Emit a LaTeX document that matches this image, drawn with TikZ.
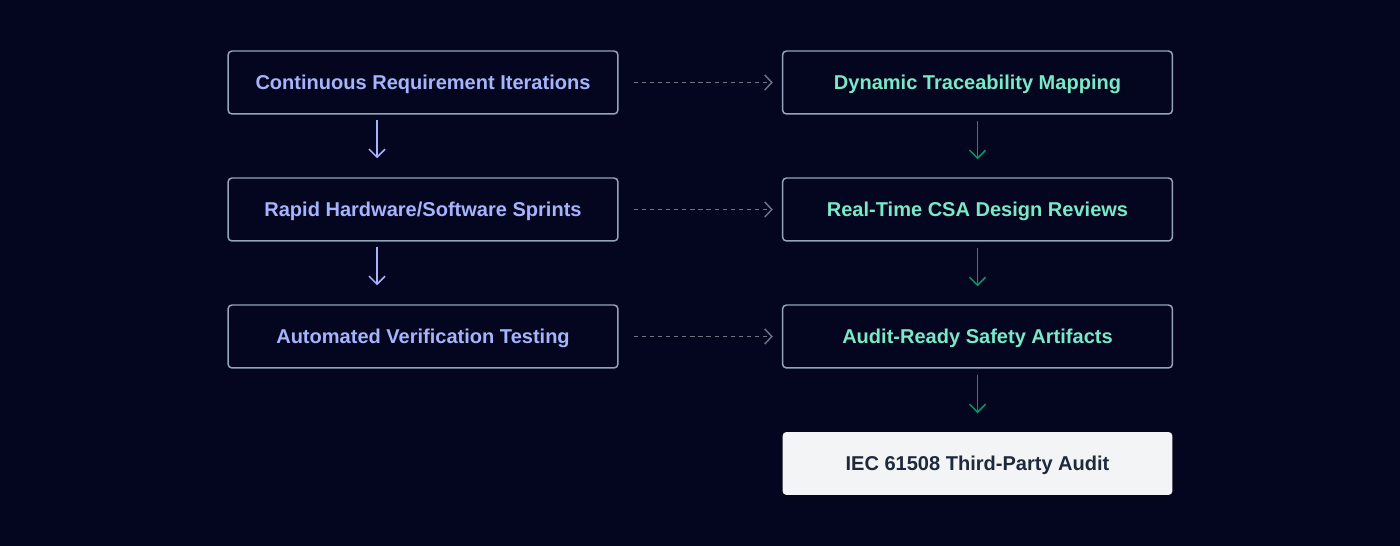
\documentclass[tikz,border=0pt]{standalone}
\usepackage{fontspec}
\setmainfont{Liberation Sans}
\usetikzlibrary{arrows.meta}

\definecolor{bgcol}{HTML}{04061F}
\definecolor{edgecol}{HTML}{94A3B8}
\definecolor{agiletxt}{HTML}{A5B4FC}
\definecolor{safetxt}{HTML}{79E9C8}
\definecolor{safearr}{HTML}{059669}
\definecolor{linkcol}{HTML}{6B7280}
\definecolor{auditfill}{HTML}{F3F4F6}
\definecolor{audittxt}{HTML}{1E293B}

\tikzset{
    stagebox/.style={draw=edgecol, line width=0.85pt, rounded corners=0.08cm, fill=bgcol,
        minimum width=7.8cm, minimum height=1.26cm, text depth=0pt,
        font=\bfseries\fontsize{11.4}{13}\selectfont},
    agilebox/.style={stagebox, text=agiletxt},
    safebox/.style={stagebox, text=safetxt},
    auditbox/.style={stagebox, draw=none, fill=auditfill, text=audittxt},
    agileflow/.style={agiletxt, line width=0.9pt, -{Straight Barb[length=1.6mm,width=3.2mm]}, shorten <=0.1cm, shorten >=0.38cm},
    safeflow/.style={safearr, line width=0.9pt, -{Straight Barb[length=1.6mm,width=3.2mm]}, shorten <=0.12cm, shorten >=0.36cm},
    linkflow/.style={linkcol, line width=0.85pt, dash pattern=on 2.4pt off 2.2pt, -{Straight Barb[length=1.4mm,width=3mm]}, shorten <=0.3cm, shorten >=0.18cm}
}

\begin{document}
\begin{tikzpicture}[x=0.02cm, y=-0.02cm]
    \fill[bgcol] (0,0) rectangle (1400,546);
    \useasboundingbox (0,0) rectangle (1400,546);

    % agile side
    \node[agilebox] (reqit) at (423,82.5) {Continuous Requirement Iterations};
    \node[agilebox] (sprint) at (423,209.5) {Rapid Hardware/Software Sprints};
    \node[agilebox] (vertest) at (423,336.5) {Automated Verification Testing};

    % safety side
    \node[safebox] (trace) at (977.5,82.5) {Dynamic Traceability Mapping};
    \node[safebox] (review) at (977.5,209.5) {Real-Time CSA Design Reviews};
    \node[safebox] (artif) at (977.5,336.5) {Audit-Ready Safety Artifacts};
    \node[auditbox] (audit) at (977.5,463.5) {IEC 61508 Third-Party Audit};

    \draw[agileflow] ([xshift=-0.92cm]reqit.south) -- ([xshift=-0.92cm]sprint.north);
    \draw[agileflow] ([xshift=-0.92cm]sprint.south) -- ([xshift=-0.92cm]vertest.north);

    \draw[safeflow] (trace) -- (review);
    \draw[safeflow] (review) -- (artif);
    \draw[safeflow] (artif) -- (audit);

    \draw[linkflow] (reqit) -- (trace);
    \draw[linkflow] (sprint) -- (review);
    \draw[linkflow] (vertest) -- (artif);
\end{tikzpicture}
\end{document}
